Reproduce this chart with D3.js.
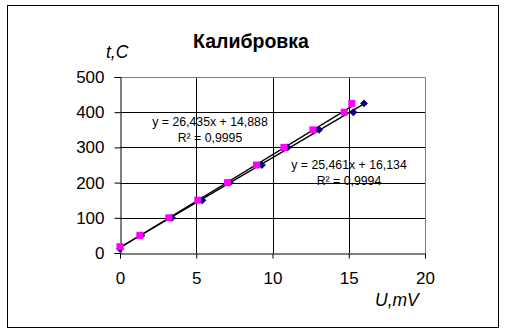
<!DOCTYPE html>
<html>
<head>
<meta charset="utf-8">
<script src="https://cdn.jsdelivr.net/npm/d3@7"></script>
<style>
  body { margin: 0; background: #fff; }
  text { font-family: Arial, "Liberation Sans", sans-serif; }
</style>
</head>
<body>
<svg id="main-svg" width="506" height="333"></svg>
<script>
const xTicks = [0, 5, 10, 15, 20];
const yTicks = [0, 100, 200, 300, 400, 500];

// series 1 (navy diamonds)
const blueU = [0, 1.4, 3.4, 5.4, 7.2, 9.3, 11.0, 13.05, 15.3, 16.0];
const blueT = [12, 50, 100, 150, 200, 250, 300, 350, 400, 425];
// series 2 (magenta squares)
const pinkU = [0, 1.3, 3.2, 5.1, 7.05, 8.95, 10.75, 12.65, 14.7, 15.2];
const pinkT = [18, 50, 100, 150, 200, 250, 300, 350, 400, 425];

// trendline coefficients [slope, intercept]
const blueFit = [25.461, 16.134];
const pinkFit = [26.435, 14.888];
const blueLabel = ["y = 25,461x + 16,134", "R² = 0,9994"];
const pinkLabel = ["y = 26,435x + 14,888", "R² = 0,9995"];

const svg = d3.select("#main-svg");

// outer frame
svg.append("rect")
  .attr("x", 7.5).attr("y", 5.5)
  .attr("width", 491).attr("height", 322)
  .attr("fill", "none").attr("stroke", "#000");

var x = d3.scaleLinear().domain([0, 20]).range([120, 425]);
var y = d3.scaleLinear().domain([0, 500]).range([253, 77]);

// grid
svg.append("g").selectAll("line").data(yTicks.slice(1, -1)).enter().append("line")
  .attr("x1", x(0)).attr("x2", x(20))
  .attr("y1", d => Math.round(y(d)) + 0.5).attr("y2", d => Math.round(y(d)) + 0.5)
  .attr("stroke", "#000");
svg.append("g").selectAll("line").data(xTicks.slice(1, -1)).enter().append("line")
  .attr("y1", y(0)).attr("y2", y(500))
  .attr("x1", d => Math.round(x(d)) + 0.5).attr("x2", d => Math.round(x(d)) + 0.5)
  .attr("stroke", "#000");

// plot area border (top/right grey)
svg.append("path")
  .attr("d", `M${x(0)},${y(500) + 0.5}H${x(20) + 0.5}V${y(0)}`)
  .attr("fill", "none").attr("stroke", "#808080");

// axes
var xAxis = d3.axisBottom(x).tickValues(xTicks).tickSize(5).tickPadding(13);
var yAxis = d3.axisLeft(y).tickValues(yTicks).tickSize(6).tickPadding(10);

var gx = svg.append("g").attr("transform", `translate(0,${Math.round(y(0)) + 0.5})`).call(xAxis);
var gy = svg.append("g").attr("transform", `translate(${Math.round(x(0)) + 0.5},0)`).call(yAxis);
[gx, gy].forEach(g => {
  g.select(".domain").attr("stroke", "#000");
  g.selectAll(".tick line").attr("stroke", "#000");
  g.selectAll(".tick text").attr("font-size", 17).attr("fill", "#000")
    .attr("font-family", "Arial, 'Liberation Sans', sans-serif");
});

// trendlines
function trend(fit, us) {
  var x0 = 0, x1 = d3.max(us);
  svg.append("line")
    .attr("x1", x(x0)).attr("y1", y(fit[0] * x0 + fit[1]))
    .attr("x2", x(x1)).attr("y2", y(fit[0] * x1 + fit[1]))
    .attr("stroke", "#000").attr("stroke-width", 1.4);
}
trend(blueFit, blueU);
trend(pinkFit, pinkU);

// markers
svg.append("g").selectAll("path").data(d3.zip(blueU, blueT)).enter().append("path")
  .attr("d", d3.symbol(d3.symbolDiamond2, 40))
  .attr("transform", d => `translate(${x(d[0])},${y(d[1])})`)
  .attr("fill", "#000080");
svg.append("g").selectAll("rect").data(d3.zip(pinkU, pinkT)).enter().append("rect")
  .attr("x", d => x(d[0]) - 3.5).attr("y", d => y(d[1]) - 3.5)
  .attr("width", 7).attr("height", 7)
  .attr("fill", "#ff00ff");

// equation labels
function eqLabel(lines, cx, cy) {
  var t = svg.append("text").attr("text-anchor", "middle").attr("font-size", 12.3).attr("fill", "#000");
  lines.forEach((s, i) => {
    t.append("tspan").attr("x", cx).attr("y", cy + i * 15.5).text(s);
  });
}
eqLabel(pinkLabel, 210, 126);
eqLabel(blueLabel, 349, 169);

// title and axis titles
svg.append("text").attr("x", 251).attr("y", 48).attr("text-anchor", "middle")
  .attr("font-size", 19.5).attr("font-weight", "bold").text("Калибровка");
svg.append("text").attr("x", 106).attr("y", 58)
  .attr("font-size", 17.5).attr("font-style", "italic").text("t,C");
svg.append("text").attr("x", 375).attr("y", 306)
  .attr("font-size", 17.5).attr("font-style", "italic").text("U,mV");
</script>
</body>
</html>
